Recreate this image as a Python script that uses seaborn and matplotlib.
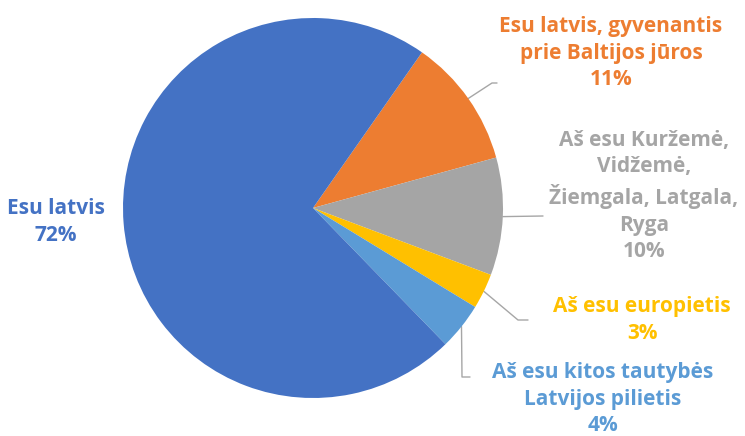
import numpy as np
import matplotlib
matplotlib.use("Agg")
import matplotlib.pyplot as plt
import seaborn as sns

# Data (Excel-style order: clockwise from the orange slice)
labels = [
    "Esu latvis, gyvenantis\nprie Baltijos jūros",
    "Aš esu Kuržemė,\nVidžemė,\nŽiemgala, Latgala,\nRyga",
    "Aš esu europietis",
    "Aš esu kitos tautybės\nLatvijos pilietis",
    "Esu latvis",
]
shares = [11, 10, 3, 4, 72]
colors = ["#ED7D31", "#A5A5A5", "#FFC000", "#5B9BD5", "#4472C4"]

# label placement (pixel centres) and leader-line bends
label_px = [(611, 53), (644, 196), (642, 320), (603, 399), (56, 222)]
elbows_px = [
    [(492, 83), (497, 83)],
    [(543, 216)],
    [(518, 320), (528, 320)],
    [(462, 377), (470, 377)],
    None,
]

sns.set_theme(style="white")
plt.rcParams["font.family"] = ["Open Sans", "DejaVu Sans"]

W, H = 745, 436
cx, cy, R = 313, 208, 190

fig = plt.figure(figsize=(W / 100, H / 100), dpi=100)
ax = fig.add_axes([0, 0, 1, 1])

wedges, _ = ax.pie(shares, colors=colors, startangle=55, counterclock=False,
                   radius=1, wedgeprops=dict(linewidth=0))


def to_data(px, py):
    return (px - cx) / R, (cy - py) / R


for w, lab, val, col, (lx, ly), elb in zip(wedges, labels, shares, colors,
                                           label_px, elbows_px):
    tx, ty = to_data(lx, ly)
    ax.text(tx, ty, f"{lab}\n{val}%", ha="center", va="center", color=col,
            fontsize=15, fontweight="bold", linespacing=1.35)
    if elb is None:
        continue
    mid = np.deg2rad((w.theta1 + w.theta2) / 2)
    xs = [np.cos(mid)]
    ys = [np.sin(mid)]
    for ex, ey in elb:
        dx, dy = to_data(ex, ey)
        xs.append(dx)
        ys.append(dy)
    ax.plot(xs, ys, color="#A6A6A6", lw=1.0, zorder=0.5)

ax.set_xlim(-cx / R, (W - cx) / R)
ax.set_ylim(-(H - cy) / R, cy / R)
ax.set_aspect("equal")
ax.axis("off")

fig.savefig("out.png", dpi=100)
plt.close("all")
